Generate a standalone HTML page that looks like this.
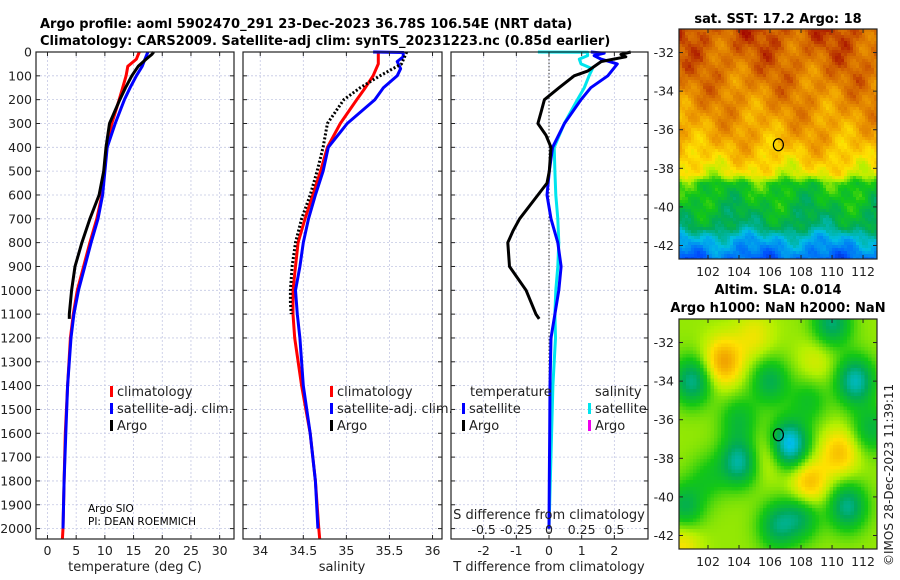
<!DOCTYPE html>
<html><head><meta charset="utf-8"><style>
html,body{margin:0;padding:0;background:#fff;}
svg{display:block;font-family:"DejaVu Sans","Liberation Sans",sans-serif;}
</style></head><body>
<svg id="fig" width="900" height="580" viewBox="0 0 900 580" xmlns="http://www.w3.org/2000/svg">
<text x="40" y="28" font-size="13" font-weight="bold">Argo profile: aoml 5902470_291 23-Dec-2023 36.78S 106.54E (NRT data)</text>
<text x="40" y="45" font-size="13" font-weight="bold">Climatology: CARS2009. Satellite-adj clim: synTS_20231223.nc (0.85d earlier)</text>
<g id="grid"></g><g id="marks"></g><g id="axes"></g>
<g id="maps"></g>
<text x="778" y="23" font-size="13" font-weight="bold" text-anchor="middle">sat. SST: 17.2 Argo: 18</text>
<text x="778" y="294" font-size="13" font-weight="bold" text-anchor="middle">Altim. SLA: 0.014</text>
<text x="778" y="312" font-size="13" font-weight="bold" text-anchor="middle">Argo h1000: NaN h2000: NaN</text>
<text transform="translate(893,566) rotate(-90)" font-size="12" fill="#222">©IMOS 28-Dec-2023 11:39:11</text>
<text x="88" y="512" font-size="10.5">Argo SIO</text>
<text x="88" y="525" font-size="10.5">PI: DEAN ROEMMICH</text>
<text x="135" y="571" font-size="13" text-anchor="middle" fill="#222">temperature (deg C)</text>
<text x="342" y="571" font-size="13" text-anchor="middle" fill="#222">salinity</text>
<text x="549" y="571" font-size="13" text-anchor="middle" fill="#222">T difference from climatology</text>
<text x="549" y="519" font-size="13" text-anchor="middle" fill="#222">S difference from climatology</text>
</svg>
<script>
// ---- data ----
const argoTDepth=[0,10,30,60,100,150,200,300,400,500,600,700,800,900,1000,1100,1120];
const argoT=[18.5,18.2,17.2,15.8,14.7,13.6,12.6,10.8,10.2,9.8,9.0,7.4,6.0,4.8,4.2,3.8,3.8];
const climDepth=[0,30,60,100,200,300,400,500,600,700,800,900,1000,1100,1200,1400,1600,1800,2000,2045];
const climT=[16.0,15.5,14.0,13.7,12.5,11.2,10.3,9.9,9.5,8.6,7.4,6.3,5.2,4.5,4.0,3.5,3.1,2.9,2.7,2.6];
const satDepth=[0,30,60,100,150,200,300,400,500,600,700,800,900,1000,1100,1200,1400,1600,1800,2000];
const satT=[17.5,17.0,16.5,15.5,14.4,13.4,11.8,10.4,10.0,9.6,8.8,7.6,6.5,5.4,4.6,4.1,3.5,3.2,2.9,2.7];
const argoSDepth=[0,50,100,150,200,300,400,500,600,700,800,900,1000,1050,1100];
const argoS=[35.70,35.64,35.39,35.16,34.97,34.78,34.73,34.66,34.58,34.48,34.41,34.37,34.35,34.35,34.36];
const climSDepth=[0,50,100,150,200,300,400,500,600,700,800,900,1000,1100,1200,1400,1600,1800,2000,2045];
const climS=[35.37,35.37,35.31,35.22,35.12,34.93,34.78,34.70,34.61,34.52,34.44,34.41,34.38,34.38,34.40,34.48,34.58,34.64,34.68,34.69];
const satSDepth=[0,2,20,40,70,100,150,200,300,400,500,600,700,800,900,1000,1100,1200,1400,1600,1800,2000];
const satS=[35.31,35.66,35.66,35.59,35.63,35.59,35.43,35.33,35.01,34.79,34.73,34.64,34.56,34.50,34.46,34.41,34.43,34.46,34.50,34.58,34.64,34.67];
const dArgoTDepth=[0,10,20,40,80,100,150,200,250,300,350,400,500,550,600,700,750,800,900,1000,1050,1100,1120];
const dArgoT=[2.5,2.2,2.35,1.6,1.18,0.77,0.31,-0.14,-0.24,-0.34,-0.09,0.06,0.01,-0.06,-0.34,-0.9,-1.1,-1.26,-1.21,-0.7,-0.55,-0.4,-0.3];
const dSatTDepth=[0,5,15,30,50,100,150,200,300,400,500,600,700,800,900,1000,1100,1200,1400,1600,1800,2000];
const dSatT=[1.28,1.69,1.38,1.59,2.09,1.8,1.28,0.98,0.47,0.11,0.01,-0.06,0.06,0.27,0.37,0.3,0.18,0.06,0.03,0.02,0.01,0.0];
const dSatSDepth=[0,1,15,30,50,70,100,150,200,300,400,500,600,700,800,900,1000,1100,1200,1400,1600,1800,2000];
const dSatS=[-0.085,0.295,0.295,0.232,0.245,0.332,0.307,0.27,0.217,0.117,0.04,0.045,0.052,0.067,0.075,0.067,0.052,0.045,0.05,0.03,0.02,0.01,0.0];
const depthTicks=[0,100,200,300,400,500,600,700,800,900,1000,1100,1200,1300,1400,1500,1600,1700,1800,1900,2000];
const tTicks=[0,5,10,15,20,25,30];
const sTicks=[34,34.5,35,35.5,36];
const sTickLabels=["34","34.5","35","35.5","36"];
const dTTicks=[-2,-1,0,1,2];
const dSTicks=[-0.5,-0.25,0,0.25,0.5];
const dSTickLabels=["-0.5","-0.25","0","0.25","0.5"];
const lonTicks=[102,104,106,108,110,112];
const latTicks=[-32,-34,-36,-38,-40,-42];
const floatLon=106.54, floatLat=-36.78;

// ---- helpers ----
const NS="http://www.w3.org/2000/svg";
function mk(tag,attrs,parent){const e=document.createElementNS(NS,tag);for(const k in attrs)e.setAttribute(k,attrs[k]);parent.appendChild(e);return e;}
const gGrid=document.getElementById('grid'),gMarks=document.getElementById('marks'),gAxes=document.getElementById('axes'),gMaps=document.getElementById('maps');
const Y0=52,YB=539,DMAX=(YB-Y0)/0.2383;
const yD=d=>Y0+d*0.2383;
const panels=[
 {name:'temperature',x0:36,x1:234,lo:-2,hi:32.5},
 {name:'salinity',x0:243,x1:442,lo:33.8,hi:36.11},
 {name:'difference',x0:451,x1:648,lo:-3,hi:3.03}];
panels.forEach(p=>p.x=v=>p.x0+(v-p.lo)/(p.hi-p.lo)*(p.x1-p.x0));
const [P1,P2,P3]=panels;

function drawPanel(p,xt,xl){
  depthTicks.forEach(d=>{
    const l=mk('line',{x1:p.x0,x2:p.x1,y1:yD(d),y2:yD(d),stroke:'#c4c8e4','stroke-width':0.8,'stroke-dasharray':'2,2'},gGrid);
    
    mk('line',{x1:p.x0,x2:p.x0+4,y1:yD(d),y2:yD(d),stroke:'#222'},gAxes);
    mk('line',{x1:p.x1,x2:p.x1-4,y1:yD(d),y2:yD(d),stroke:'#222'},gAxes);
  });
  xt.forEach((v,i)=>{
    const x=p.x(v);
    const l=mk('line',{x1:x,x2:x,y1:Y0,y2:YB,stroke:'#c4c8e4','stroke-width':0.8,'stroke-dasharray':'2,2'},gGrid);
    
    mk('line',{x1:x,x2:x,y1:Y0,y2:Y0+4,stroke:'#222'},gAxes);
    mk('line',{x1:x,x2:x,y1:YB,y2:YB-4,stroke:'#222'},gAxes);
    const t=mk('text',{x:x,y:555,'font-size':12.5,'text-anchor':'middle',fill:'#222'},gAxes);
    t.textContent=xl?xl[i]:String(v);
    
  });
  const r=mk('rect',{x:p.x0,y:Y0,width:p.x1-p.x0,height:YB-Y0,fill:'none',stroke:'#222','stroke-width':1.2},gAxes);
  
}
drawPanel(P1,tTicks);drawPanel(P2,sTicks,sTickLabels);drawPanel(P3,dTTicks);
depthTicks.forEach(d=>{
  const t=mk('text',{x:32,y:yD(d)+4.5,'font-size':12.5,'text-anchor':'end',fill:'#222'},gAxes);
  t.textContent=String(d);
  
});
dSTicks.forEach((v,i)=>{
  const t=mk('text',{x:P3.x(v*4),y:534,'font-size':12.5,'text-anchor':'middle',fill:'#222'},gAxes);
  t.textContent=dSTickLabels[i];
  
});
const zl=mk('line',{x1:P3.x(0),x2:P3.x(0),y1:Y0,y2:YB,stroke:'#333','stroke-width':1,'stroke-dasharray':'1.5,2'},gGrid);


function line(p,depths,vals,color,name,dash,scale){
  scale=scale||1;
  const pts=depths.map((d,i)=>p.x(vals[i]*scale).toFixed(1)+','+yD(Math.min(d,DMAX)).toFixed(1)).join(' ');
  const a={points:pts,fill:'none',stroke:color,'stroke-width':3,'stroke-linejoin':'round'};
  if(dash)a['stroke-dasharray']=dash;
  const e=mk('polyline',a,gMarks);
  
}
line(P1,climDepth,climT,'#ff0000','temp-climatology-line');
line(P1,satDepth,satT,'#0000ff','temp-satellite-line');
line(P1,argoTDepth,argoT,'#000','temp-argo-line');
line(P2,climSDepth,climS,'#ff0000','sal-climatology-line');
line(P2,satSDepth,satS,'#0000ff','sal-satellite-line');
line(P2,argoSDepth,argoS,'#000','sal-argo-line','2,2');
line(P3,dSatSDepth,dSatS,'#00e5ee','sdiff-satellite-line',null,4);
line(P3,dSatTDepth,dSatT,'#0000ff','tdiff-satellite-line');
line(P3,dArgoTDepth,dArgoT,'#000','tdiff-argo-line');

function legend(x,y,color,label,name){
  const m=mk('rect',{x:x,y:y-10,width:3,height:11,fill:color},gAxes);
  
  const t=mk('text',{x:x+7,y:y,'font-size':13,fill:'#222'},gAxes);t.textContent=label;
  
}
legend(110,396,'#ff0000','climatology','legend-climatology-temp');
legend(110,413,'#0000ff','satellite-adj. clim.','legend-satellite-temp');
legend(110,430,'#000','Argo','legend-argo-temp');
legend(330,396,'#ff0000','climatology','legend-climatology-sal');
legend(330,413,'#0000ff','satellite-adj. clim.','legend-satellite-sal');
legend(330,430,'#000','Argo','legend-argo-sal');
const lt=mk('text',{x:470,y:396,'font-size':13,fill:'#222'},gAxes);lt.textContent='temperature';

const ls=mk('text',{x:595,y:396,'font-size':13,fill:'#222'},gAxes);ls.textContent='salinity';

legend(462,413,'#0000ff','satellite','legend-tdiff-satellite');
legend(462,430,'#000','Argo','legend-tdiff-argo');
legend(588,413,'#00e5ee','satellite','legend-sdiff-satellite');
legend(588,430,'#ee00ee','Argo','legend-sdiff-argo');

// ---- maps ----
const stops=[[0,[0,0,140]],[0.15,[0,80,255]],[0.3,[0,190,230]],[0.42,[0,170,90]],[0.52,[20,200,20]],[0.62,[180,240,0]],[0.7,[255,225,0]],[0.8,[240,160,0]],[0.9,[210,100,0]],[1,[160,0,0]]];
function cmap(v){v=Math.max(0,Math.min(1,v));for(let i=1;i<stops.length;i++){if(v<=stops[i][0]){const a=stops[i-1],b=stops[i],t=(v-a[0])/(b[0]-a[0]);return 'rgb('+a[1].map((c,k)=>Math.round(c+(b[1][k]-c)*t)).join(',')+')';}}return 'rgb(160,0,0)';}
const MX0=679,MX1=877,LON0=100.13,LON1=112.9;
const mx=lon=>MX0+(lon-LON0)/(LON1-LON0)*(MX1-MX0);
const sstLat=[-30.7,-33,-35,-36.5,-37.5,-38.3,-38.8,-40,-41,-41.6,-42.7];
const sstVal=[0.92,0.87,0.82,0.78,0.73,0.67,0.52,0.47,0.42,0.3,0.18];
const slaBlobs=[[101,-34,-0.22],[104,-38.2,-0.24],[107.2,-37.3,-0.34],[106,-34,-0.16],[110,-31,-0.2],[111.5,-34,-0.26],[111,-40.5,-0.22],[106.5,-41.5,-0.18],[108,-41,-0.16],[104,-36,-0.12],[100.5,-40.5,-0.16],[112.5,-36.5,-0.14],[108.5,-35,-0.1],[102,-39,-0.08],[103,-33,0.2],[108.5,-39.3,0.17],[110.5,-37.7,0.15],[106,-37.8,0.1],[105,-31.7,0.08],[100.3,-42.5,0.1],[109,-33,0.06]];
function interp(xs,ys,x){if(x>=xs[0])return ys[0];for(let i=1;i<xs.length;i++){if(x>=xs[i]){const t=(x-xs[i-1])/(xs[i]-xs[i-1]);return ys[i-1]+(ys[i]-ys[i-1])*t;}}return ys[ys.length-1];}
function drawMap(top,bot,latTop,latBot,field,name,cell){
  const g=mk('g',{},gMaps);
  const my=lat=>top+(latTop-lat)/(latTop-latBot)*(bot-top);
  for(let y=top;y<bot;y+=cell)for(let x=MX0;x<MX1;x+=cell){
    const lon=LON0+(x+cell/2-MX0)/(MX1-MX0)*(LON1-LON0);
    const lat=latTop-(y+cell/2-top)/(bot-top)*(latTop-latBot);
    mk('rect',{x:x,y:y,width:Math.min(cell,MX1-x)+0.3,height:Math.min(cell,bot-y)+0.3,fill:cmap(field(lon,lat))},g);
  }
  mk('rect',{x:MX0,y:top,width:MX1-MX0,height:bot-top,fill:'none',stroke:'#222','stroke-width':1.2},g);
  lonTicks.forEach(l=>{const x=mx(l);mk('line',{x1:x,x2:x,y1:bot,y2:bot-4,stroke:'#222'},g);mk('line',{x1:x,x2:x,y1:top,y2:top+4,stroke:'#222'},g);
    const t=mk('text',{x:x,y:bot+17,'font-size':12.5,'text-anchor':'middle',fill:'#222'},g);t.textContent=String(l);
    });
  latTicks.forEach(l=>{const y=my(l);mk('line',{x1:MX0,x2:MX0+4,y1:y,y2:y,stroke:'#222'},g);mk('line',{x1:MX1,x2:MX1-4,y1:y,y2:y,stroke:'#222'},g);
    const t=mk('text',{x:674,y:y+4.5,'font-size':12.5,'text-anchor':'end',fill:'#222'},g);t.textContent=String(l);
    });
  const c=mk('ellipse',{cx:mx(floatLon),cy:my(floatLat),rx:5,ry:6,fill:'none',stroke:'#000','stroke-width':1.2},g);
  
}
function sstField(lon,lat){
  const b=interp(sstLat,sstVal,lat);
  const n=0.035*Math.sin(lon*1.3+lat*0.9)+0.03*Math.sin(lon*2.7-lat*2.1)+0.02*Math.sin(lon*4.3+lat*5.3)+0.012*Math.sin(lon*13.1)*Math.sin(lat*11.3);
  return b+n;
}
function slaField(lon,lat){
  let v=0.6;
  slaBlobs.forEach(b=>{const dx=lon-b[0],dy=lat-b[1];v+=b[2]*Math.exp(-(dx*dx+dy*dy)/1.5);});
  return v;
}
drawMap(29,259,-30.78,-42.7,sstField,'sst-map',3);
drawMap(319,549,-30.78,-42.7,slaField,'sla-map',3.5);
</script>
</body></html>
